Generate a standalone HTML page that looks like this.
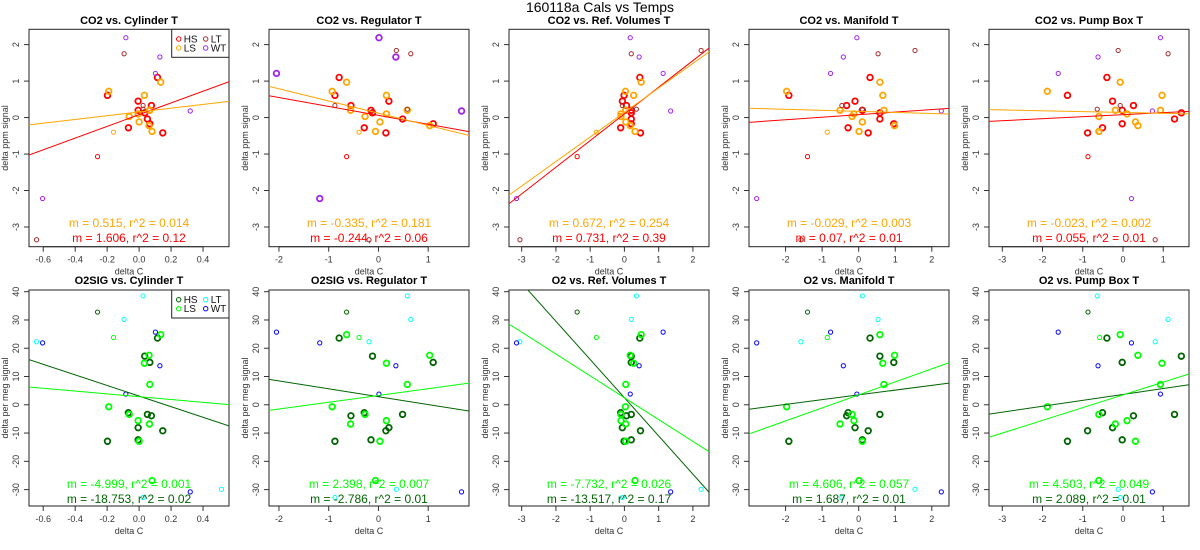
<!DOCTYPE html>
<html><head><meta charset="utf-8"><style>
html,body{margin:0;padding:0;background:#fff;}
svg{display:block;font-family:"Liberation Sans",Arial,sans-serif;}
</style></head><body>
<svg id="chart" width="1200" height="550" viewBox="0 0 1200 550" xmlns="http://www.w3.org/2000/svg">
<rect width="1200" height="550" fill="#fff"/>
<text x="600" y="12" text-anchor="middle" font-size="14">160118a   Cals vs Temps</text>
</svg>
<script>
// ---- data ----
const panelTitlesTop = ['CO2 vs. Cylinder T','CO2 vs. Regulator T','CO2 vs. Ref. Volumes T','CO2 vs. Manifold T','CO2 vs. Pump Box T'];
const panelTitlesBot = ['O2SIG vs. Cylinder T','O2SIG vs. Regulator T','O2 vs. Ref. Volumes T','O2 vs. Manifold T','O2 vs. Pump Box T'];
const xRanges = [[-0.689,0.5625],[-2.2,1.82],[-3.37,2.47],[-3.0,2.47],[-3.33,1.64]];
const xTicks = [[-0.6,-0.4,-0.2,0,0.2,0.4],[-2,-1,0,1],[-3,-2,-1,0,1,2],[-2,-1,0,1,2],[-3,-2,-1,0,1]];
const xTickLabels = [['-0.6','-0.4','-0.2','0.0','0.2','0.4'],['-2','-1','0','1'],['-3','-2','-1','0','1','2'],['-2','-1','0','1','2'],['-3','-2','-1','0','1']];
const co2Range = [-3.54,2.42];
const co2Ticks = [-3,-2,-1,0,1,2];
const o2Range = [-35.8,40.6];
const o2Ticks = [-30,-20,-10,0,10,20,30,40];

const sampleGroup = ['HS','HS','HS','HS','HS','HS','HS','HS','HS','HS','LS','LS','LS','LS','LS','LS','LS','LS','LS','LS','HS','LS','LT','LT','LT','LT','LT','WT','WT','WT','WT','WT'];
const sampleThick = [1,1,1,1,1,1,1,1,1,1,1,1,1,1,1,1,1,1,1,1,0,0,0,0,0,0,0,0,0,0,0,0];
const xCyl  = [-0.198,-0.006,-0.006,0.077,0.115,-0.067,0.035,0.052,0.067,0.148, -0.19,0.033,0.135,0.065,-0.062,-0.006,0.0,0.081,0.067,0.062, -0.26,-0.16, -0.094,-0.642,0.025,0.025,0.515, -0.083,0.13,0.102,0.32,-0.604];
const xReg  = [-0.875,0.21,-0.15,-0.553,-0.79,-0.285,-0.12,0.485,1.10,0.15, -0.93,0.16,-0.64,-0.56,-0.27,0.16,0.03,-0.06,0.58,1.03, -0.64,-0.39, 0.65,-0.19,0.58,-0.875,0.36, 0.01,0.35,-2.05,1.67,-1.18];
const xRef  = [-0.01,-0.06,0.20,0.06,0.45,-0.11,0.20,0.20,0.20,0.47, 0.03,0.27,0.49,0.04,-0.10,-0.10,0.04,0.31,0.04,0.17, -1.38,-0.82, 0.20,-3.05,0.35,-0.06,2.24, 0.17,0.43,1.13,1.35,-3.15];
const xMan  = [-1.91,-0.10,0.10,-0.33,0.31,-0.29,0.58,0.58,0.96,0.26, -1.97,0.66,0.58,-0.51,-0.18,-0.13,0.10,0.01,0.69,0.98, -1.4,-0.86, 0.53,-1.58,0.10,-0.46,1.54, -0.05,-0.42,-0.77,2.26,-2.79];
const xPump = [-1.38,-0.26,-0.02,0.26,-0.40,-0.51,1.45,1.28,-0.02,-0.88, -1.88,0.97,-0.07,-0.19,-0.60,0.10,0.31,-0.60,0.93,0.37, -0.87,-0.58, 1.12,0.80,-0.64,-0.07,-0.12, 0.93,-0.62,-1.61,0.73,0.21];
const co2 = [0.61,0.45,0.20,0.33,1.10,-0.28,0.13,-0.04,-0.17,-0.42, 0.72,0.61,0.97,0.20,0.03,0.10,-0.12,-0.38,0.20,-0.22, -1.07,-0.4, 1.75,-3.35,0.23,0.33,1.84, 2.19,1.66,1.21,0.18,-2.22];
const o2  = [-12.9,-8.1,-12.4,-3.9,23.6,-2.8,17.2,-3.4,15.0,-9.2, -0.7,14.7,24.8,-6.8,-3.4,-5.6,-12.9,-26.8,7.2,17.5, 32.8,23.8, 30.2,22.3,38.5,-32.8,-29.9, 3.8,13.8,25.7,-30.8,21.9];

const co2HSSlope = [1.606,-0.244,0.731,0.07,0.055];
const co2HSInt   = [0.08,0.06,0.1,0.08,0.08];
const co2LSSlope = [0.515,-0.335,0.672,-0.029,-0.023];
const co2LSInt   = [0.155,0.12,0.14,0.17,0.14];
const o2HSSlope = [-18.753,-2.786,-13.517,1.687,2.089];
const o2HSInt   = [3.08,2.87,2.5,3.5,3.66];
const o2LSSlope = [-4.999,2.398,-7.732,4.606,4.503];
const o2LSInt   = [2.86,3.28,2.5,3.5,3.5];
const co2LSText = ['m = 0.515, r^2 = 0.014','m = -0.335, r^2 = 0.181','m = 0.672, r^2 = 0.254','m = -0.029, r^2 = 0.003','m = -0.023, r^2 = 0.002'];
const co2HSText = ['m = 1.606, r^2 = 0.12','m = -0.244, r^2 = 0.06','m = 0.731, r^2 = 0.39','m = 0.07, r^2 = 0.01','m = 0.055, r^2 = 0.01'];
const o2LSText = ['m = -4.999, r^2 = 0.001','m = 2.398, r^2 = 0.007','m = -7.732, r^2 = 0.026','m = 4.606, r^2 = 0.057','m = 4.503, r^2 = 0.049'];
const o2HSText = ['m = -18.753, r^2 = 0.02','m = -2.786, r^2 = 0.01','m = -13.517, r^2 = 0.17','m = 1.687, r^2 = 0.01','m = 2.089, r^2 = 0.01'];

const co2Colors = {HS:'#ff0000',LS:'#ffa500',LT:'#a52a2a',WT:'#a020f0'};
const o2Colors = {HS:'#006400',LS:'#00ff00',LT:'#00ffff',WT:'#0000ff'};
const xCols = [xCyl,xReg,xRef,xMan,xPump];

const NS='http://www.w3.org/2000/svg';
const svg=document.getElementById('chart');
function mk(tag,attrs,parent){const e=document.createElementNS(NS,tag);for(const k in attrs)e.setAttribute(k,attrs[k]);(parent||svg).appendChild(e);return e;}

function drawPanel(col,row){
  const L=col*240+29, R=L+200;
  const T=row===0?29.3:290, B=row===0?246.7:506;
  const yr=row===0?co2Range:o2Range, xr=xRanges[col];
  const sx=v=>L+(v-xr[0])/(xr[1]-xr[0])*(R-L);
  const sy=v=>B-(v-yr[0])/(yr[1]-yr[0])*(B-T);
  const g=mk('g',{});
  
  
  const cid='clip'+row+col;
  const cp=mk('clipPath',{id:cid},g); mk('rect',{x:L,y:T,width:R-L,height:B-T},cp);
  const title=mk('text',{x:(L+R)/2,y:row===0?24:284,'text-anchor':'middle','font-size':11,'font-weight':'bold'},g);
  
  
  title.textContent=(row===0?panelTitlesTop:panelTitlesBot)[col];
  const xa=mk('g',{},g);
  
  
  const xt=xTicks[col];
  mk('line',{x1:sx(xt[0]),x2:sx(xt[xt.length-1]),y1:B,y2:B,stroke:'#333','stroke-width':1},xa);
  xt.forEach((v,i)=>{
    mk('line',{x1:sx(v),x2:sx(v),y1:B,y2:B+5,stroke:'#333','stroke-width':1},xa);
    const t=mk('text',{x:sx(v),y:B+16,'text-anchor':'middle','font-size':9,fill:'#333'},xa);
    
    
    t.textContent=xTickLabels[col][i];
  });
  const xl=mk('text',{x:(L+R)/2,y:B+28,'text-anchor':'middle','font-size':9,fill:'#333'},g);
  
  
  xl.textContent='delta C';
  const ya=mk('g',{},g);
  
  
  const yt=row===0?co2Ticks:o2Ticks;
  mk('line',{x1:L,x2:L,y1:sy(yt[0]),y2:sy(yt[yt.length-1]),stroke:'#333','stroke-width':1},ya);
  yt.forEach(v=>{
    mk('line',{x1:L-5,x2:L,y1:sy(v),y2:sy(v),stroke:'#333','stroke-width':1},ya);
    const t=mk('text',{x:L-10,y:sy(v),'text-anchor':'middle','font-size':9,fill:'#333',transform:`rotate(-90 ${L-10} ${sy(v)})`},ya);
    
    
    t.textContent=String(v);
  });
  const ymid=(T+B)/2;
  const yl=mk('text',{x:col*240+8,y:ymid,'text-anchor':'middle','font-size':9,fill:'#333',transform:`rotate(-90 ${col*240+8} ${ymid})`},g);
  
  
  yl.textContent=row===0?'delta ppm signal':'delta per meg signal';
  mk('rect',{x:L,y:T,width:R-L,height:B-T,fill:'none',stroke:'#222','stroke-width':1},g);
  const cols=row===0?co2Colors:o2Colors;
  const ys=row===0?co2:o2;
  const xs=xCols[col];
  const pg=mk('g',{'clip-path':`url(#${cid})`},g);
  
  
  xs.forEach((xv,i)=>{
    const grp=sampleGroup[i];
    let thick=sampleThick[i];
    if(row===0&&col===1&&grp==='WT')thick=1;
    const c=mk('circle',{cx:sx(xv),cy:sy(ys[i]),r:thick?2.8:2.1,fill:'none',stroke:cols[grp],'stroke-width':thick?1.8:1},pg);
    
    
  });
  const fits=row===0?[[co2HSSlope,co2HSInt,'HS'],[co2LSSlope,co2LSInt,'LS']]:[[o2HSSlope,o2HSInt,'HS'],[o2LSSlope,o2LSInt,'LS']];
  fits.forEach(([s,b,grp])=>{
    const m=s[col],c0=b[col];
    const ln=mk('line',{x1:sx(xr[0]),y1:sy(c0+m*xr[0]),x2:sx(xr[1]),y2:sy(c0+m*xr[1]),stroke:cols[grp],'stroke-width':1,'clip-path':`url(#${cid})`},g);
    
    
  });
  const t1=mk('text',{x:(L+R)/2,y:row===0?227:488,'text-anchor':'middle','font-size':12,fill:cols.LS},g);
  
  
  t1.textContent=(row===0?co2LSText:o2LSText)[col];
  const t2=mk('text',{x:(L+R)/2,y:row===0?242:503,'text-anchor':'middle','font-size':12,fill:cols.HS},g);
  
  
  t2.textContent=(row===0?co2HSText:o2HSText)[col];
  if(col===0){
    const lg=mk('g',{},g);
    
    
    mk('rect',{x:171.7,y:T,width:R-171.7,height:28,fill:'#fff',stroke:'#222','stroke-width':1},lg);
    [['HS',178.7,T+9.7],['LS',178.7,T+18.7],['LT',205.7,T+9.7],['WT',205.7,T+18.7]].forEach(([k,x,y])=>{
      const e=mk('g',{},lg);
      
      
      mk('circle',{cx:x,cy:y,r:2.2,fill:'none',stroke:cols[k],'stroke-width':1},e);
      const t=mk('text',{x:x+5,y:y+3.5,'font-size':10,fill:'#111'},e);
      t.textContent=k;
    });
  }
}
for(let r=0;r<2;r++)for(let c=0;c<5;c++)drawPanel(c,r);
</script>
</body></html>
